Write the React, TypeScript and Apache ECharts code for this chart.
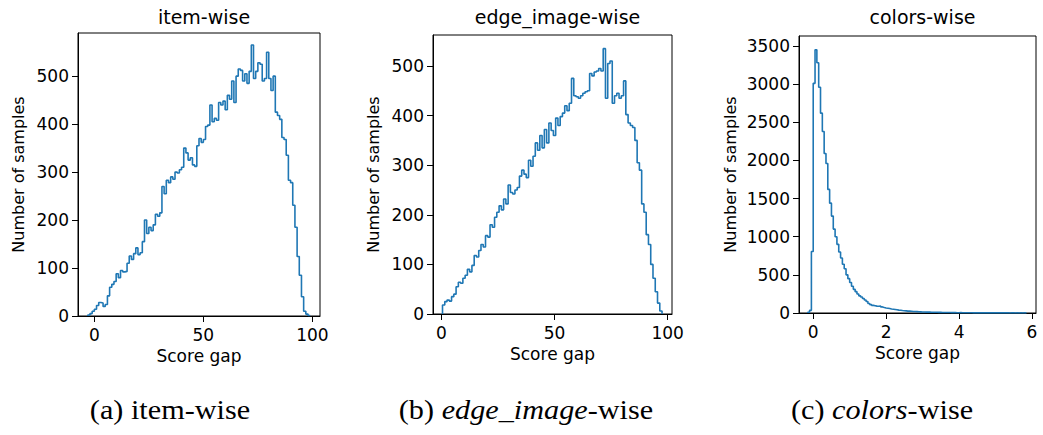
import React, { useEffect, useRef } from "react";
import * as echarts from "echarts";

// ---------- data ----------
const titles = ["item-wise", "edge_image-wise", "colors-wise"];
const xAxisName = "Score gap";
const yAxisName = "Number of samples";

// (a) item-wise: bins of width 1 starting at -3
const itemStart = -3;
const itemBinWidth = 1;
const itemCounts = [
  2, 5, 10, 14, 22, 28, 27, 20, 24, 42,
  60, 66, 72, 88, 80, 95, 92, 93, 110, 125,
  118, 130, 142, 128, 132, 155, 200, 172, 185, 178,
  190, 212, 208, 215, 270, 255, 283, 278, 290, 285,
  300, 298, 305, 310, 350, 340, 325, 330, 315, 312,
  355, 370, 362, 368, 395, 398, 440, 405, 412, 408,
  445, 440, 448, 430, 460, 452, 490, 445, 500, 515,
  512, 490, 505, 485, 510, 565, 495, 510, 528, 525,
  490, 495, 550, 495, 470, 500, 425, 418, 410, 372,
  368, 335, 283, 278, 231, 185, 124, 85, 40, 10,
  4, 1,
];

// (b) edge_image-wise: bins of width 1 starting at 0.5
const edgeStart = 0.5;
const edgeBinWidth = 1;
const edgeCounts = [
  18, 25, 28, 26, 35, 40, 55, 64, 62, 72,
  78, 90, 85, 98, 118, 115, 128, 140, 135, 158,
  155, 180, 175, 195, 205, 218, 210, 232, 222, 260,
  245, 242, 250, 255, 278, 290, 282, 275, 310, 298,
  318, 345, 330, 360, 335, 372, 345, 385, 370, 360,
  395, 380, 398, 405, 420, 410, 425, 475, 440, 438,
  435, 440, 445, 448, 450, 485, 480, 488, 490, 495,
  490, 535, 435, 505, 510, 425, 440, 445, 435, 440,
  470, 402, 385, 380, 376, 350, 305, 290, 222, 205,
  160, 140, 100, 72, 45, 22, 6,
];

// (c) colors-wise: bins of width 0.05 starting at -0.15
const colorsStart = -0.15;
const colorsBinWidth = 0.05;
const colorsCounts = [
  10, 35, 806,
  3010, 3450, 3280, 2960, 2620, 2380, 2090, 1960, 1620, 1440,
  1270, 1100, 1000, 900, 800, 720, 640, 580, 500, 450,
  400, 350, 310, 280, 250, 225, 210, 190, 170, 150,
  125, 110, 100, 95, 90, 88, 92, 80, 72, 66,
  62, 58, 52, 50, 46, 42, 38, 35, 32, 30,
  28, 25, 24, 22, 20, 19, 18, 16, 15, 14,
  13, 12, 12, 11, 10, 10, 9, 9, 8, 8,
  7, 7, 6, 6, 6, 5, 5, 5, 4, 4,
  5, 4, 3, 4, 3, 3, 3, 2, 3, 2,
  2, 2, 3, 2, 2, 1, 2, 1, 2, 1,
  1, 2, 1, 1, 1, 1, 1, 0, 1, 1,
  0, 1, 0, 1, 0, 1, 0,
];

const xTicks = [
  [0, 50, 100],
  [0, 50, 100],
  [0, 2, 4, 6],
];
const yTicks = [
  [0, 100, 200, 300, 400, 500],
  [0, 100, 200, 300, 400, 500],
  [0, 500, 1000, 1500, 2000, 2500, 3000, 3500],
];
const xRanges = [
  [-7.5, 103.5],
  [-3.7, 101.9],
  [-0.39, 6.11],
];
const yMax = [590, 562.5, 3631];

const captions = [
  { label: "(a) ", italic: "", rest: "item-wise" },
  { label: "(b) ", italic: "edge_image", rest: "-wise" },
  { label: "(c) ", italic: "colors", rest: "-wise" },
];

// ---------- layout ----------
const grids = [
  { left: 78, top: 33, width: 242, height: 283 },
  { left: 433, top: 35, width: 239, height: 279 },
  { left: 799, top: 36, width: 237, height: 277 },
];
const yNameGaps = [52, 52, 61];
const captionCenters = [170, 526, 882];

const BLUE = "#1f77b4";
const SANS = "DejaVu Sans";

function stepData(start: number, w: number, counts: number[]) {
  const pts: number[][] = [[start, 0]];
  counts.forEach((c, i) => pts.push([start + i * w, c]));
  pts.push([start + counts.length * w, 0]);
  return pts;
}

export default function App() {
  const ref = useRef<HTMLDivElement>(null);

  useEffect(() => {
    if (!ref.current) return;
    const chart = echarts.init(ref.current, undefined, { renderer: "svg" });

    const seriesData = [
      stepData(itemStart, itemBinWidth, itemCounts),
      stepData(edgeStart, edgeBinWidth, edgeCounts),
      stepData(colorsStart, colorsBinWidth, colorsCounts),
    ];

    const option: any = {
      animation: false,
      backgroundColor: "#fff",
      title: titles.map((t, i) => ({
        text: t,
        left: grids[i].left + grids[i].width / 2,
        top: 2,
        textAlign: "center",
        textStyle: {
          fontFamily: SANS,
          fontSize: 19,
          fontWeight: "normal",
          color: "#000",
        },
      })),
      grid: grids.map((g) => ({
        ...g,
        show: true,
        borderColor: "#000",
        borderWidth: 1,
        backgroundColor: "transparent",
        containLabel: false,
      })),
      xAxis: grids.map((_, i) => ({
        type: "value",
        gridIndex: i,
        min: xRanges[i][0],
        max: xRanges[i][1],
        name: xAxisName,
        nameLocation: "middle",
        nameGap: 31,
        nameTextStyle: { fontFamily: SANS, fontSize: 17, color: "#000" },
        axisLine: { show: true, onZero: false, lineStyle: { color: "#000", width: 1 } },
        axisTick: {
          show: true,
          length: 6,
          customValues: xTicks[i],
          lineStyle: { color: "#000", width: 1 },
        },
        axisLabel: {
          customValues: xTicks[i],
          formatter: (v: number) => String(v),
          fontFamily: SANS,
          fontSize: 17,
          color: "#000",
          margin: 10,
        },
        splitLine: { show: false },
      })),
      yAxis: grids.map((_, i) => ({
        type: "value",
        gridIndex: i,
        min: 0,
        max: yMax[i],
        name: yAxisName,
        nameLocation: "middle",
        nameGap: yNameGaps[i],
        nameTextStyle: { fontFamily: SANS, fontSize: 16, color: "#000" },
        axisLine: { show: true, onZero: false, lineStyle: { color: "#000", width: 1 } },
        axisTick: {
          show: true,
          length: 6,
          customValues: yTicks[i],
          lineStyle: { color: "#000", width: 1 },
        },
        axisLabel: {
          customValues: yTicks[i],
          formatter: (v: number) => String(v),
          fontFamily: SANS,
          fontSize: 17,
          color: "#000",
          margin: 9,
        },
        splitLine: { show: false },
      })),
      series: seriesData.map((d, i) => ({
        type: "line",
        xAxisIndex: i,
        yAxisIndex: i,
        data: d,
        step: "end",
        symbol: "none",
        showSymbol: false,
        silent: true,
        clip: true,
        lineStyle: { color: BLUE, width: 1.6 },
      })),
      graphic: captions.map((c, i) => ({
        type: "text",
        x: captionCenters[i],
        y: 410,
        scaleX: 1.12,
        style: {
          text:
            "{n|" + c.label + "}" +
            (c.italic ? "{i|" + c.italic + "}" : "") +
            "{n|" + c.rest + "}",
          align: "center",
          verticalAlign: "middle",
          rich: {
            n: { fontFamily: "Liberation Serif", fontSize: 27, fill: "#000", color: "#000" },
            i: {
              fontFamily: "Liberation Serif",
              fontSize: 27,
              fontStyle: "italic",
              fill: "#000",
              color: "#000",
            },
          },
        },
      })),
    };

    chart.setOption(option);
    return () => chart.dispose();
  }, []);

  return (
    <div
      ref={ref}
      style={{ position: "absolute", left: 0, top: 0, width: 1043, height: 435 }}
    />
  );
}
